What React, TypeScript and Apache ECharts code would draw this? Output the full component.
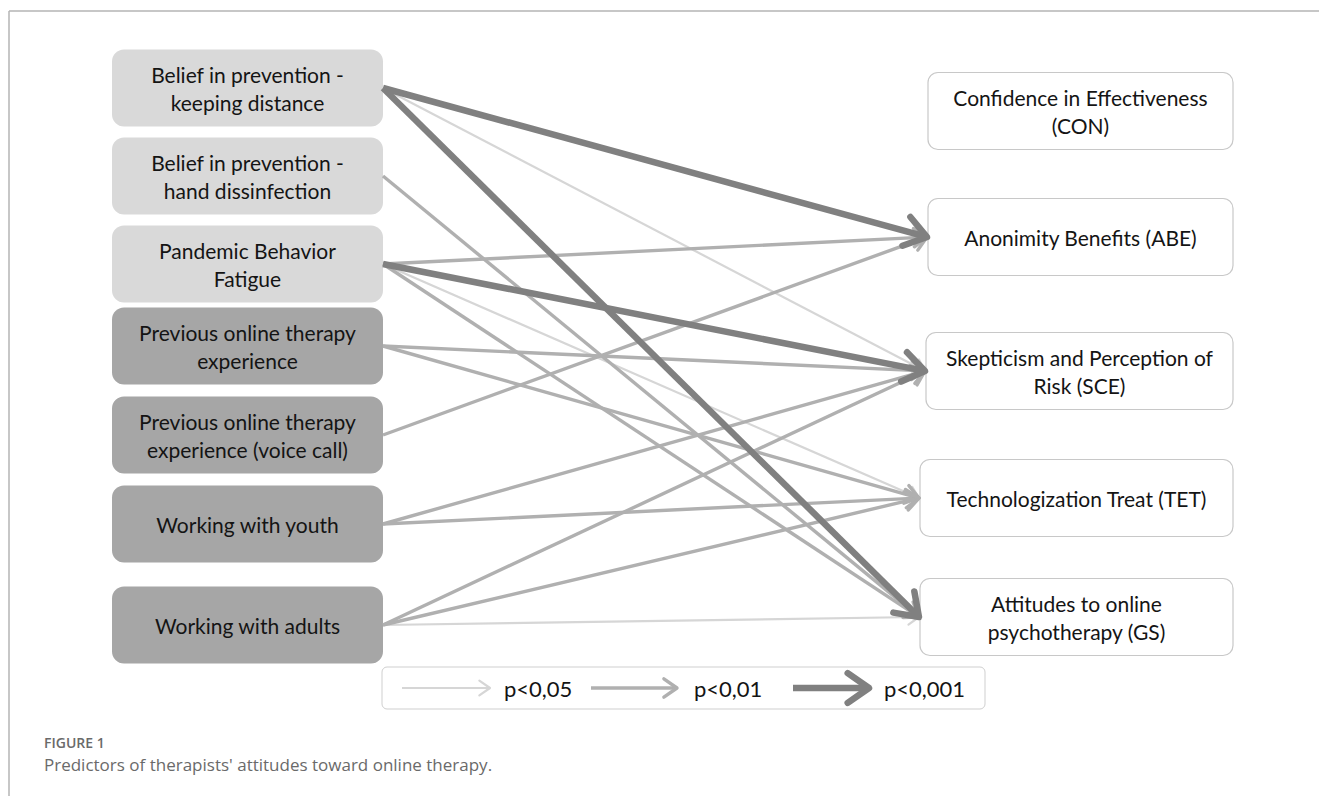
import React, { useEffect, useRef } from "react";
import * as echarts from "echarts";

// ---- data ----
const predictors = [
  "Belief in prevention -\nkeeping distance",
  "Belief in prevention -\nhand dissinfection",
  "Pandemic Behavior\nFatigue",
  "Previous online therapy\nexperience",
  "Previous online therapy\nexperience (voice call)",
  "Working with youth",
  "Working with adults",
];
// 0 = beliefs / fatigue, 1 = experience / clientele
const predictorGroup = [0, 0, 0, 1, 1, 1, 1];

const outcomes = [
  "Confidence in Effectiveness\n(CON)",
  "Anonimity Benefits (ABE)",
  "Skepticism and Perception of\nRisk (SCE)",
  "Technologization Treat (TET)",
  "Attitudes to online\npsychotherapy (GS)",
];

// [predictor index, outcome index, significance level 0: p<0,05  1: p<0,01  2: p<0,001]
const paths: [number, number, number][] = [
  [0, 1, 2],
  [0, 4, 2],
  [0, 2, 0],
  [1, 4, 1],
  [2, 1, 1],
  [2, 2, 2],
  [2, 3, 0],
  [2, 4, 1],
  [3, 2, 1],
  [3, 3, 1],
  [4, 1, 1],
  [5, 2, 1],
  [5, 3, 1],
  [6, 2, 1],
  [6, 3, 1],
  [6, 4, 0],
];

const pLabels = ["p<0,05", "p<0,01", "p<0,001"];

// ---- layout & style ----
const W = 1319;
const H = 796;
const LEFT_X0 = 112;
const LEFT_W = 271;
const LEFT_H = 77;
const LEFT_CY = [88, 176, 264, 346, 435, 524, 625];
const LEFT_FILL = ["#d9d9d9", "#a6a6a6"];

const RIGHT_X = [928, 928, 926, 920, 920];
const RIGHT_X1 = 1233;
const RIGHT_H = 77;
const RIGHT_CY = [111, 237, 371, 498, 617];

const LEVEL_COLOR = ["#d6d6d6", "#b0b0b0", "#808080"];
const LEVEL_WIDTH = [2.2, 3.4, 6.5];
const LEVEL_HEAD = [13, 16, 26];

const LEG_BOX = { x0: 382, y0: 667, x1: 985, y1: 709 };
const LEG_Y = 688;
const LEG_ARROW = [
  [402, 490],
  [591, 677],
  [793, 869],
];
const LEG_TEXT_X = [504, 694, 884];

const BOX_FONT = "Lato";
const BOX_FONT_SIZE = 21;

function arrowChildren(
  sx: number,
  sy: number,
  tx: number,
  ty: number,
  level: number
) {
  const dx = tx - sx;
  const dy = ty - sy;
  const len = Math.sqrt(dx * dx + dy * dy);
  const ux = dx / len;
  const uy = dy / len;
  const nx = -uy;
  const ny = ux;
  const L = LEVEL_HEAD[level];
  const a = (35 * Math.PI) / 180;
  const c = Math.cos(a) * L;
  const s = Math.sin(a) * L;
  const color = LEVEL_COLOR[level];
  const lw = LEVEL_WIDTH[level];
  const endX = tx - ux * lw * 0.5;
  const endY = ty - uy * lw * 0.5;
  return [
    {
      type: "line",
      shape: { x1: sx, y1: sy, x2: endX, y2: endY },
      style: { stroke: color, lineWidth: lw, lineCap: "butt" },
    },
    {
      type: "polyline",
      shape: {
        points: [
          [tx - ux * c + nx * s, ty - uy * c + ny * s],
          [tx, ty],
          [tx - ux * c - nx * s, ty - uy * c - ny * s],
        ],
      },
      style: {
        stroke: color,
        lineWidth: lw,
        fill: null,
        lineCap: "round",
        lineJoin: "round",
      },
    },
  ];
}

export default function App() {
  const ref = useRef<HTMLDivElement>(null);

  useEffect(() => {
    document.body.style.margin = "0";
    if (!ref.current) return;
    const chart = echarts.init(ref.current, undefined, { renderer: "svg" });

    const sortedPaths = [...paths].sort((a, b) => a[2] - b[2]);

    const option: any = {
      animation: false,
      backgroundColor: "#ffffff",
      grid: { left: 0, right: 0, top: 0, bottom: 0 },
      xAxis: { type: "value", min: 0, max: W, show: false },
      yAxis: { type: "value", min: 0, max: H, inverse: true, show: false },
      graphic: [
        {
          type: "line",
          shape: { x1: 9, y1: 11, x2: W, y2: 11 },
          style: { stroke: "#b4b4b4", lineWidth: 1.5 },
          silent: true,
        },
        {
          type: "line",
          shape: { x1: 9, y1: 11, x2: 9, y2: H },
          style: { stroke: "#b4b4b4", lineWidth: 1.5 },
          silent: true,
        },
        {
          type: "rect",
          shape: {
            x: LEG_BOX.x0,
            y: LEG_BOX.y0,
            width: LEG_BOX.x1 - LEG_BOX.x0,
            height: LEG_BOX.y1 - LEG_BOX.y0,
            r: 5,
          },
          style: { fill: "#ffffff", stroke: "#cfcfcf", lineWidth: 1 },
          z: 0,
        },
        {
          type: "text",
          x: 44,
          y: 742,
          style: {
            text: "FIGURE 1",
            fontFamily: "Open Sans",
            fontSize: 14,
            fontWeight: 600,
            fill: "#6a6a6a",
            verticalAlign: "middle",
          },
        },
        {
          type: "text",
          x: 44,
          y: 764,
          style: {
            text: "Predictors of therapists' attitudes toward online therapy.",
            fontFamily: "Open Sans",
            fontSize: 17,
            fill: "#6a6a6a",
            verticalAlign: "middle",
          },
        },
      ],
      series: [
        {
          type: "custom",
          name: "paths",
          z: 3,
          data: sortedPaths,
          renderItem: (_p: any, api: any) => {
            const from = api.value(0);
            const to = api.value(1);
            const level = api.value(2);
            const [sx, sy] = api.coord([LEFT_X0 + LEFT_W, LEFT_CY[from]]);
            const [tx, ty] = api.coord([RIGHT_X[to] - 1, RIGHT_CY[to]]);
            return {
              type: "group",
              children: arrowChildren(sx, sy, tx, ty, level),
            };
          },
        },
        {
          type: "custom",
          name: "predictors",
          z: 2,
          data: predictors.map((_, i) => [i]),
          renderItem: (_p: any, api: any) => {
            const i = api.value(0);
            const [x0, y0] = api.coord([LEFT_X0, LEFT_CY[i] - LEFT_H / 2]);
            const [x1, y1] = api.coord([LEFT_X0 + LEFT_W, LEFT_CY[i] + LEFT_H / 2]);
            return {
              type: "group",
              children: [
                {
                  type: "rect",
                  shape: { x: x0, y: y0, width: x1 - x0, height: y1 - y0, r: 12 },
                  style: { fill: LEFT_FILL[predictorGroup[i]] },
                },
                {
                  type: "text",
                  style: {
                    text: predictors[i],
                    x: (x0 + x1) / 2,
                    y: (y0 + y1) / 2,
                    align: "center",
                    verticalAlign: "middle",
                    fontFamily: BOX_FONT,
                    fontSize: BOX_FONT_SIZE,
                    lineHeight: 28,
                    fill: "#141414",
                  },
                },
              ],
            };
          },
        },
        {
          type: "custom",
          name: "outcomes",
          z: 2,
          data: outcomes.map((_, i) => [i]),
          renderItem: (_p: any, api: any) => {
            const i = api.value(0);
            const [x0, y0] = api.coord([RIGHT_X[i], RIGHT_CY[i] - RIGHT_H / 2]);
            const [x1, y1] = api.coord([RIGHT_X1, RIGHT_CY[i] + RIGHT_H / 2]);
            return {
              type: "group",
              children: [
                {
                  type: "rect",
                  shape: { x: x0, y: y0, width: x1 - x0, height: y1 - y0, r: 10 },
                  style: { fill: "#ffffff", stroke: "#c8c8c8", lineWidth: 1.2 },
                },
                {
                  type: "text",
                  style: {
                    text: outcomes[i],
                    x: (x0 + x1) / 2,
                    y: (y0 + y1) / 2,
                    align: "center",
                    verticalAlign: "middle",
                    fontFamily: BOX_FONT,
                    fontSize: BOX_FONT_SIZE,
                    lineHeight: 28,
                    fill: "#141414",
                  },
                },
              ],
            };
          },
        },
        {
          type: "custom",
          name: "legend",
          z: 4,
          data: pLabels.map((_, i) => [i]),
          renderItem: (_p: any, api: any) => {
            const i = api.value(0);
            const [sx, sy] = api.coord([LEG_ARROW[i][0], LEG_Y]);
            const [tx, ty] = api.coord([LEG_ARROW[i][1], LEG_Y]);
            const [lx, ly] = api.coord([LEG_TEXT_X[i], LEG_Y]);
            return {
              type: "group",
              children: [
                ...arrowChildren(sx, sy, tx, ty, i),
                {
                  type: "text",
                  style: {
                    text: pLabels[i],
                    x: lx,
                    y: ly,
                    align: "left",
                    verticalAlign: "middle",
                    fontFamily: BOX_FONT,
                    fontSize: 22,
                    fill: "#141414",
                  },
                },
              ],
            };
          },
        },
      ],
    };

    chart.setOption(option);
    return () => {
      chart.dispose();
    };
  }, []);

  return <div ref={ref} style={{ width: W, height: H }} />;
}
